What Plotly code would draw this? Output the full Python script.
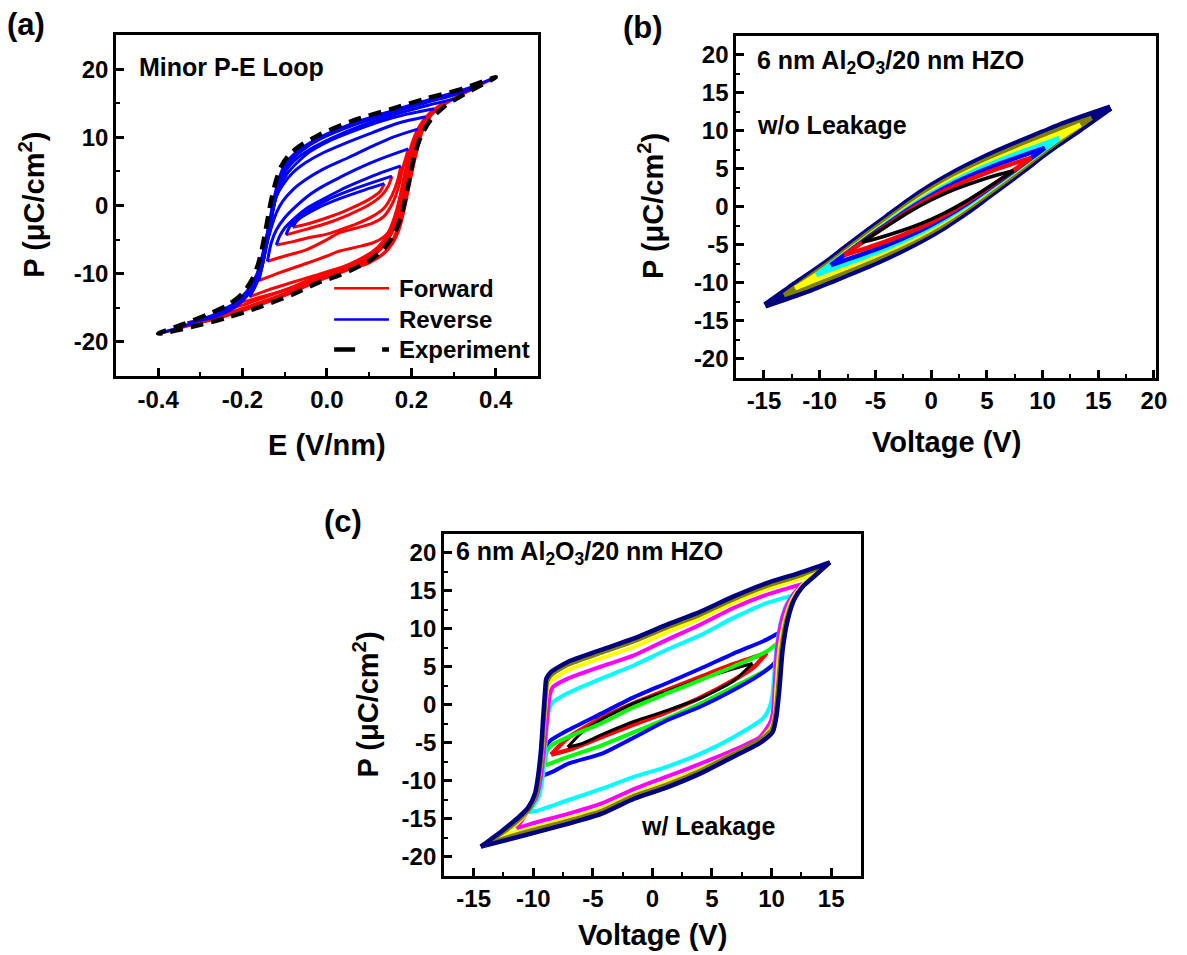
import plotly.graph_objects as go

FONT = "Liberation Sans, Arial, Helvetica, sans-serif"
W, H = 1187, 955

# ---------------- (a) Minor P-E loops ----------------
# forward (red) branches, one list per minor loop (inner -> outer)
a_fwd_E = [
    [-0.081, -0.04, 0.0, 0.05, 0.10, 0.125, 0.136],
    [-0.097, -0.05, 0.0, 0.05, 0.10, 0.13, 0.145, 0.154],
    [-0.120, -0.08, -0.049, 0.0, 0.029, 0.07, 0.108, 0.135, 0.155, 0.168, 0.175],
    [-0.141, -0.10, -0.049, 0.0, 0.029, 0.07, 0.108, 0.135, 0.156, 0.17, 0.179, 0.193],
    [-0.161, -0.11, -0.049, 0.0, 0.029, 0.07, 0.108, 0.135, 0.156, 0.169, 0.179, 0.191, 0.203, 0.215],
    [-0.183, -0.14, -0.089, -0.03, 0.029, 0.07, 0.108, 0.135, 0.156, 0.172, 0.183, 0.193, 0.203, 0.218, 0.234],
    [-0.21, -0.16, -0.12, -0.06, 0.0, 0.05, 0.10, 0.135, 0.155, 0.170, 0.182, 0.193, 0.205, 0.222, 0.24, 0.254],
    [-0.26, -0.2, -0.14, -0.08, -0.02, 0.03, 0.07, 0.105, 0.13, 0.149, 0.163, 0.174, 0.184, 0.194, 0.21, 0.235, 0.265, 0.30],
    [-0.33, -0.26, -0.2, -0.14, -0.08, -0.02, 0.03, 0.07, 0.105, 0.131, 0.151, 0.166, 0.177, 0.187, 0.197, 0.212, 0.235, 0.27, 0.31, 0.35],
    [-0.40, -0.32, -0.24, -0.16, -0.08, -0.02, 0.03, 0.07, 0.105, 0.133, 0.154, 0.17, 0.181, 0.191, 0.201, 0.217, 0.24, 0.28, 0.34, 0.40],
]
a_fwd_P = [
    [-3.2, -2.6, -1.8, -0.6, 0.9, 2.0, 3.2],
    [-4.3, -3.5, -2.6, -1.4, 0.1, 1.5, 2.8, 4.3],
    [-5.8, -5.3, -4.8, -4.2, -3.6, -2.7, -1.6, -0.4, 1.6, 3.8, 5.8],
    [-8.2, -7.4, -6.5, -5.0, -4.0, -3.3, -2.6, -1.6, 0.4, 2.8, 5.3, 8.3],
    [-11.0, -9.8, -8.5, -7.4, -6.7, -6.1, -5.5, -4.6, -3.1, -0.8, 2.3, 5.0, 7.2, 11.2],
    [-13.4, -12.4, -11.4, -10.3, -9.2, -8.6, -8.0, -7.0, -5.5, -3.3, -0.6, 2.4, 5.3, 9.3, 13.0],
    [-14.3, -13.5, -12.8, -11.6, -10.5, -9.4, -8.4, -7.0, -5.2, -2.8, 0.2, 3.5, 7.0, 10.3, 12.6, 14.2],
    [-15.6, -14.6, -13.3, -11.9, -10.3, -9.2, -8.1, -6.9, -5.5, -3.5, -1.1, 1.6, 4.6, 7.5, 10.5, 13.0, 14.6, 15.6],
    [-17.2, -16.2, -15.1, -13.8, -12.4, -10.7, -9.6, -8.5, -7.3, -5.8, -3.8, -1.3, 1.5, 4.5, 7.4, 10.2, 12.6, 14.6, 16.0, 17.2],
    [-18.8, -17.5, -16.2, -14.6, -12.7, -11.0, -9.9, -8.8, -7.6, -6.0, -4.0, -1.5, 1.3, 4.3, 7.3, 10.3, 12.8, 14.9, 17.0, 18.8],
]
# reverse (blue) branches
a_rev_E = [
    [0.136, 0.09, 0.03, -0.02, -0.055, -0.072, -0.081],
    [0.154, 0.10, 0.05, 0.0, -0.04, -0.07, -0.088, -0.097],
    [0.175, 0.12, 0.069, 0.03, -0.01, -0.05, -0.081, -0.10, -0.112, -0.120],
    [0.193, 0.13, 0.069, 0.03, -0.01, -0.045, -0.073, -0.10, -0.12, -0.132, -0.141],
    [0.215, 0.16, 0.108, 0.05, -0.01, -0.05, -0.081, -0.105, -0.12, -0.133, -0.144, -0.152, -0.161],
    [0.234, 0.17, 0.108, 0.05, -0.01, -0.05, -0.081, -0.105, -0.12, -0.13, -0.136, -0.145, -0.152, -0.165, -0.183],
    [0.254, 0.19, 0.12, 0.05, 0.0, -0.04, -0.07, -0.095, -0.11, -0.122, -0.134, -0.148, -0.162, -0.18, -0.21],
    [0.30, 0.24, 0.17, 0.10, 0.03, -0.03, -0.065, -0.088, -0.104, -0.116, -0.128, -0.138, -0.15, -0.165, -0.19, -0.22, -0.26],
    [0.35, 0.30, 0.23, 0.15, 0.06, -0.02, -0.058, -0.082, -0.10, -0.112, -0.124, -0.134, -0.144, -0.155, -0.17, -0.19, -0.22, -0.26, -0.33],
    [0.40, 0.32, 0.23, 0.15, 0.06, -0.02, -0.06, -0.085, -0.103, -0.115, -0.127, -0.137, -0.147, -0.158, -0.172, -0.195, -0.23, -0.28, -0.34, -0.40],
]
a_rev_P = [
    [3.2, 2.3, 1.0, -0.3, -1.5, -2.3, -3.2],
    [4.3, 3.2, 2.1, 0.8, -0.6, -1.9, -3.1, -4.3],
    [5.8, 4.6, 3.3, 2.2, 0.9, -0.5, -2.1, -3.3, -4.5, -5.8],
    [8.3, 6.9, 5.3, 4.1, 2.8, 1.4, -0.1, -1.8, -3.6, -5.5, -8.2],
    [11.2, 10.1, 8.7, 7.0, 5.3, 3.8, 2.3, 0.6, -1.1, -3.5, -6.0, -8.5, -11.0],
    [13.0, 12.1, 10.7, 9.3, 7.7, 6.3, 4.8, 3.0, 1.3, -1.2, -3.6, -6.2, -8.5, -11.2, -13.4],
    [14.2, 13.4, 12.2, 10.6, 9.3, 7.9, 6.3, 4.6, 3.0, 1.0, -2.0, -6.0, -9.4, -12.0, -14.3],
    [15.6, 14.7, 13.5, 12.1, 10.4, 8.6, 7.2, 5.9, 4.4, 2.4, -0.6, -3.8, -7.2, -10.0, -12.6, -14.4, -15.6],
    [17.2, 16.2, 15.0, 13.5, 11.7, 9.6, 8.1, 6.8, 5.3, 3.3, 0.4, -2.9, -6.2, -9.1, -11.4, -13.3, -15.0, -16.2, -17.2],
    [18.8, 16.9, 15.3, 13.8, 12.0, 9.9, 8.4, 7.1, 5.6, 3.6, 0.6, -2.7, -6.0, -8.9, -11.2, -13.2, -15.0, -16.3, -17.7, -18.8],
]
# experiment (dashed)
exp_E = [0.40, 0.32, 0.23, 0.15, 0.06, -0.02, -0.065, -0.09, -0.108, -0.12, -0.132, -0.142, -0.152, -0.163,
         -0.178, -0.20, -0.235, -0.28, -0.34, -0.40,
         -0.32, -0.24, -0.16, -0.08, -0.02, 0.03, 0.07, 0.105, 0.135, 0.158, 0.175, 0.186, 0.196, 0.206,
         0.222, 0.245, 0.28, 0.34, 0.40]
exp_P = [18.8, 17.1, 15.6, 14.1, 12.4, 10.3, 8.7, 7.4, 5.8, 3.8, 0.8, -2.5, -5.8, -8.6,
         -10.9, -12.9, -14.6, -15.9, -17.4, -18.8,
         -17.8, -16.5, -14.9, -13.0, -11.3, -10.2, -9.1, -7.9, -6.3, -4.3, -1.8, 1.0, 4.0, 7.0,
         10.0, 12.5, 14.6, 16.8, 18.8]
a_xticks = [-0.4, -0.2, 0.0, 0.2, 0.4]
a_xticktext = ["-0.4", "-0.2", "0.0", "0.2", "0.4"]
a_yticks = [-20, -10, 0, 10, 20]
a_yticktext = ["-20", "-10", "0", "10", "20"]
legend_names = ["Forward", "Reverse", "Experiment"]

# ---------------- (b) w/o leakage (outer -> inner) ----------------
b_colors = ["#000080", "#808000", "#FFFF00", "#00FFFF", "#0000FF", "#FF0000", "#000000"]
b_widths = [6.5, 4.5, 4.5, 4.5, 4.5, 4.5, 3.5]
b_up_V = [
    [16.1, 14, 12, 10, 8, 6, 4, 2, 0, -2, -4, -6.2, -7.8, -9.0, -10.3, -12.2, -13.2, -14.9],
    [14.4, 12, 9, 6, 3, 0, -3, -6, -9, -11, -13.2],
    [13.4, 11, 8, 5, 2, -1, -4, -7, -10, -12.2],
    [11.5, 9, 7, 5, 3, 1, -1, -3, -5, -7, -10.3],
    [10.2, 8, 6, 4, 2, 0, -2, -4, -6, -9.0],
    [9.0, 7, 5, 3, 1, -1, -3, -5, -7.8],
    [7.4, 6, 4, 2, 0, -2, -4, -6.2],
]
b_up_P = [
    [13.0, 11.95, 10.9, 9.72, 8.52, 7.28, 5.9, 4.4, 2.68, 0.75, -1.42, -3.8, -5.58, -6.94, -8.3, -10.2, -11.24, -13.0],
    [11.65, 10.43, 8.67, 6.84, 4.76, 2.33, -0.66, -3.89, -7.25, -9.34, -11.65],
    [10.75, 9.32, 7.58, 5.73, 3.61, 0.99, -2.10, -5.34, -8.65, -10.75],
    [9.0, 7.66, 6.56, 5.37, 4.05, 2.55, 0.81, -1.16, -3.27, -5.41, -9.0],
    [7.7, 6.59, 5.55, 4.36, 3.04, 1.47, -0.33, -2.37, -4.44, -7.7],
    [6.4, 5.48, 4.46, 3.29, 1.93, 0.33, -1.52, -3.52, -6.4],
    [4.71, 4.18, 3.26, 2.19, 0.86, -0.74, -2.60, -4.71],
]
b_lo_V = [
    [-14.9, -12.8, -10.8, -8.8, -6.8, -4.8, -2.8, -0.8, 1.2, 3.2, 5.2, 7.4, 9.0, 10.2, 11.5, 13.4, 14.4, 16.1],
    [-13.2, -10.8, -7.8, -4.8, -1.8, 1.2, 4.2, 7.2, 10.2, 12.2, 14.4],
    [-12.2, -9.8, -6.8, -3.8, -0.8, 2.2, 5.2, 8.2, 11.2, 13.4],
    [-10.3, -7.8, -5.8, -3.8, -1.8, 0.2, 2.2, 4.2, 6.2, 8.2, 11.5],
    [-9.0, -6.8, -4.8, -2.8, -0.8, 1.2, 3.2, 5.2, 7.2, 10.2],
    [-7.8, -5.8, -3.8, -1.8, 0.2, 2.2, 4.2, 6.2, 9.0],
    [-6.2, -4.8, -2.8, -0.8, 1.2, 3.2, 5.2, 7.4],
]
b_lo_P = [
    [-13.0, -11.95, -10.9, -9.72, -8.52, -7.28, -5.9, -4.4, -2.68, -0.75, 1.42, 3.8, 5.58, 6.94, 8.3, 10.2, 11.24, 13.0],
    [-11.65, -10.43, -8.67, -6.84, -4.76, -2.33, 0.66, 3.89, 7.25, 9.34, 11.65],
    [-10.75, -9.32, -7.58, -5.73, -3.61, -0.99, 2.10, 5.34, 8.65, 10.75],
    [-9.0, -7.66, -6.56, -5.37, -4.05, -2.55, -0.81, 1.16, 3.27, 5.41, 9.0],
    [-7.7, -6.59, -5.55, -4.36, -3.04, -1.47, 0.33, 2.37, 4.44, 7.7],
    [-6.4, -5.48, -4.46, -3.29, -1.93, -0.33, 1.52, 3.52, 6.4],
    [-4.71, -4.18, -3.26, -2.19, -0.86, 0.74, 2.60, 4.71],
]
b_xticks = [-15, -10, -5, 0, 5, 10, 15, 20]
b_xticktext = ["-15", "-10", "-5", "0", "5", "10", "15", "20"]
bc_yticks = [-20, -15, -10, -5, 0, 5, 10, 15, 20]
bc_yticktext = ["-20", "-15", "-10", "-5", "0", "5", "10", "15", "20"]

# ---------------- (c) w/ leakage ----------------
c_colors = ["#FF0000", "#000000", "#00FF00", "#0000FF", "#00FFFF", "#FF00FF", "#FFFF00", "#808000", "#000080"]
c_up_V = [
    [9.6, 6.8, 4.0, 1.2, -1.5, -4.3, -7.1, -8.5],
    [8.4, 6.8, 4.0, 1.2, -1.5, -4.3, -6.0, -7.1],
    [10.6, 9.5, 6.8, 4.0, 1.2, -1.5, -4.3, -7.1, -8.5, -8.9, -9.0],
    [10.8, 9.54, 6.8, 4.0, 1.2, -1.5, -4.3, -7.1, -8.6, -9.0, -9.2, -9.45],
    [11.9, 9.5, 6.8, 4.0, 1.2, -1.5, -4.3, -7.1, -8.4, -8.7, -8.85, -9.0, -9.2, -9.55, -10.4],
    [12.9, 9.5, 6.8, 4.0, 1.2, -1.5, -4.3, -7.1, -8.35, -8.6, -8.75, -8.9, -9.1, -9.35, -9.75, -10.4, -11.4],
    [13.9, 12.3, 9.5, 6.8, 4.0, 1.2, -1.5, -4.3, -7.1, -8.45, -8.8, -8.9, -9.05, -9.25, -9.5, -9.85, -10.6, -11.6, -12.6],
    [14.7, 12.3, 9.54, 6.77, 4.0, 1.23, -1.54, -4.3, -7.1, -8.45, -8.82, -8.92, -9.08, -9.27, -9.5, -9.75, -10.25, -11.0, -12.3, -13.9],
    [14.9, 12.3, 9.54, 6.77, 4.0, 1.23, -1.54, -4.3, -7.1, -8.5, -8.9, -9.0, -9.16, -9.35, -9.6, -9.85, -10.4, -11.2, -12.6, -14.4],
]
c_up_P = [
    [6.8, 5.3, 3.6, 1.9, 0.2, -1.8, -4.4, -6.6],
    [5.4, 4.7, 3.3, 1.7, 0.2, -2.0, -3.8, -5.6],
    [8.2, 6.9, 5.0, 3.2, 1.45, -0.3, -2.5, -4.3, -5.4, -6.3, -8.0],
    [9.6, 8.5, 6.7, 4.7, 2.8, 1.0, -1.2, -3.4, -4.8, -5.6, -7.0, -9.5],
    [14.4, 13.3, 11.4, 9.1, 7.2, 5.2, 3.4, 1.5, 0.2, -0.9, -2.7, -6.0, -9.5, -12.2, -14.2],
    [16.0, 14.4, 12.7, 10.5, 8.5, 6.5, 5.0, 3.4, 2.3, 1.3, -0.5, -3.0, -6.0, -9.5, -12.2, -13.9, -16.3],
    [17.4, 16.5, 15.1, 13.4, 11.3, 9.5, 7.6, 6.1, 4.5, 3.2, 2.3, 1.0, -1.7, -6.0, -9.5, -12.0, -14.4, -16.0, -17.2],
    [18.4, 16.9, 15.55, 13.8, 11.8, 10.1, 8.3, 6.8, 5.2, 3.9, 3.0, 1.6, -1.8, -6.2, -9.6, -11.8, -13.6, -14.9, -16.6, -18.3],
    [18.7, 17.3, 15.95, 14.2, 12.2, 10.5, 8.7, 7.2, 5.6, 4.3, 3.4, 1.9, -1.6, -6.0, -9.5, -11.7, -13.5, -14.8, -16.6, -18.7],
]
c_lo_V = [
    [-8.5, -7.1, -4.3, -1.5, 1.2, 4.0, 6.8, 8.5, 9.6],
    [-7.1, -6.0, -4.3, -1.5, 1.2, 4.0, 6.8, 8.4],
    [-9.0, -8.3, -7.1, -4.3, -1.5, 1.2, 4.0, 6.8, 9.5, 10.3, 10.5, 10.6],
    [-9.45, -8.3, -7.1, -4.3, -1.5, 1.2, 4.0, 6.8, 9.0, 10.1, 10.5, 10.65, 10.8],
    [-10.4, -9.5, -7.1, -4.3, -1.5, 1.2, 4.0, 6.8, 9.3, 9.85, 10.05, 10.2, 10.4, 10.8, 11.3, 11.9],
    [-11.4, -10.2, -7.1, -4.3, -1.5, 1.2, 4.0, 6.8, 9.0, 9.85, 10.1, 10.25, 10.45, 10.85, 11.45, 12.2, 12.9],
    [-12.6, -11.2, -7.1, -4.3, -1.5, 1.2, 4.0, 6.8, 9.0, 9.95, 10.25, 10.4, 10.65, 11.1, 11.7, 12.45, 13.2, 13.9],
    [-13.9, -11.2, -7.1, -4.3, -1.54, 1.23, 4.0, 6.77, 8.95, 10.0, 10.3, 10.52, 10.8, 11.22, 11.8, 12.5, 13.6, 14.7],
    [-14.4, -11.2, -7.1, -4.3, -1.54, 1.23, 4.0, 6.77, 9.0, 10.1, 10.4, 10.65, 10.93, 11.35, 11.9, 12.6, 13.7, 14.9],
]
c_lo_P = [
    [-6.6, -6.0, -4.3, -2.6, -1.0, 0.9, 3.2, 4.9, 6.8],
    [-5.6, -5.2, -4.0, -2.2, -0.8, 0.8, 3.1, 5.4],
    [-8.0, -7.6, -6.9, -5.4, -3.6, -1.85, 0.1, 2.3, 4.5, 5.6, 6.6, 8.2],
    [-9.5, -8.8, -7.8, -6.5, -4.3, -2.1, -0.3, 1.9, 3.9, 5.2, 5.9, 7.5, 9.6],
    [-14.2, -13.9, -12.6, -11.1, -9.5, -8.2, -6.5, -4.3, -1.8, -0.3, 1.0, 3.6, 7.2, 11.0, 13.3, 14.4],
    [-16.3, -15.7, -14.4, -13.05, -11.1, -9.5, -7.8, -6.0, -4.3, -2.5, -1.2, 1.9, 7.2, 11.1, 13.6, 15.2, 16.0],
    [-17.2, -16.7, -15.0, -13.7, -11.8, -10.2, -8.45, -6.45, -4.7, -3.0, -1.5, 2.0, 7.2, 11.1, 13.8, 15.5, 16.6, 17.4],
    [-18.3, -17.0, -15.3, -14.0, -12.0, -10.5, -8.7, -6.5, -4.7, -3.3, -1.4, 2.0, 7.2, 11.1, 13.7, 15.3, 16.8, 18.4],
    [-18.7, -17.4, -15.7, -14.4, -12.4, -10.9, -9.1, -6.9, -5.1, -3.6, -1.6, 1.9, 7.2, 11.1, 13.8, 15.5, 17.05, 18.7],
]
c_widths = [4.5, 3, 4, 4, 4, 4, 4, 4, 4.5]
c_xticks = [-15, -10, -5, 0, 5, 10, 15]
c_xticktext = ["-15", "-10", "-5", "0", "5", "10", "15"]

fig = go.Figure()

# ---- panel (a)
for E, P in zip(a_fwd_E, a_fwd_P):
    fig.add_trace(go.Scatter(x=E, y=P, mode="lines", xaxis="x", yaxis="y", showlegend=False,
                             line=dict(color="#FF0000", width=3, shape="spline", smoothing=0.8)))
for E, P in zip(a_rev_E, a_rev_P):
    fig.add_trace(go.Scatter(x=E, y=P, mode="lines", xaxis="x", yaxis="y", showlegend=False,
                             line=dict(color="#0000FF", width=3, shape="spline", smoothing=0.8)))
fig.add_trace(go.Scatter(x=exp_E, y=exp_P, mode="lines", xaxis="x", yaxis="y", showlegend=False,
                         line=dict(color="#000000", width=4.5, dash="13px,8px", shape="spline", smoothing=0.8)))

# ---- panel (b)
for uv, up, lv, lp, col, w in zip(b_up_V, b_up_P, b_lo_V, b_lo_P, b_colors, b_widths):
    for xs, ys in ((uv, up), (lv, lp)):
        fig.add_trace(go.Scatter(x=xs, y=ys, mode="lines", xaxis="x2", yaxis="y2", showlegend=False,
                                 line=dict(color=col, width=w, shape="spline", smoothing=0.8)))

# ---- panel (c)
for uv, up, lv, lp, col, w in zip(c_up_V, c_up_P, c_lo_V, c_lo_P, c_colors, c_widths):
    for xs, ys in ((uv, up), (lv, lp)):
        fig.add_trace(go.Scatter(x=xs, y=ys, mode="lines", xaxis="x3", yaxis="y3", showlegend=False,
                                 line=dict(color=col, width=w, shape="spline", smoothing=0.6)))


def axis(domain, rng, tickvals, ticktext, minorvals, anchor):
    return dict(domain=domain, range=rng, anchor=anchor, tickmode="array", tickvals=tickvals,
                ticktext=ticktext, ticks="inside", ticklen=8, tickwidth=2.5, tickcolor="black",
                showline=True, linewidth=2.5, linecolor="black", mirror=True, showgrid=False,
                zeroline=False, fixedrange=True,
                tickfont=dict(family=FONT, size=24, color="black", weight="bold"),
                minor=dict(ticks="inside", ticklen=4, tickwidth=2, tickcolor="black",
                           tickvals=minorvals, showgrid=False))


def px(x):
    return x / W


def py(y):
    return 1 - y / H


fig.update_layout(
    width=W, height=H, margin=dict(l=0, r=0, t=0, b=0),
    paper_bgcolor="white", plot_bgcolor="white", showlegend=False,
    font=dict(family=FONT, size=24, color="black"),
    xaxis=axis([px(117), px(543)], [-0.5, 0.5], a_xticks, a_xticktext,
               [-0.5, -0.3, -0.1, 0.1, 0.3, 0.5], "y"),
    yaxis=axis([py(376), py(35)], [-25, 25], a_yticks, a_yticktext,
               [-25, -15, -5, 5, 15, 25], "x"),
    xaxis2=axis([px(743), px(1167)], [-17.5, 20.2], b_xticks, b_xticktext,
                [-17.5, -12.5, -7.5, -2.5, 2.5, 7.5, 12.5, 17.5], "y2"),
    yaxis2=axis([py(377.5), py(35.5)], [-22.5, 22.5], bc_yticks, bc_yticktext,
                [-22.5, -17.5, -12.5, -7.5, -2.5, 2.5, 7.5, 12.5, 17.5, 22.5], "x2"),
    xaxis3=axis([px(448), px(869)], [-17.5, 17.5], c_xticks, c_xticktext,
                [-17.5, -12.5, -7.5, -2.5, 2.5, 7.5, 12.5, 17.5], "y3"),
    yaxis3=axis([py(875.5), py(533.5)], [-22.5, 22.5], bc_yticks, bc_yticktext,
                [-22.5, -17.5, -12.5, -7.5, -2.5, 2.5, 7.5, 12.5, 17.5, 22.5], "x3"),
)

# legend of panel (a), drawn as shapes + text in data coordinates
leg_y = [-12.15, -16.7, -21.1]
leg_col = ["#FF0000", "#0000FF", "#000000"]
for i, (name, yv, col) in enumerate(zip(legend_names, leg_y, leg_col)):
    fig.add_shape(type="line", xref="x", yref="y", x0=0.017, x1=0.147, y0=yv, y1=yv,
                  line=dict(color=col, width=4.5 if i == 2 else 2.5,
                            dash="21px,27px" if i == 2 else "solid"))
    fig.add_annotation(x=0.165, y=yv, xref="x", yref="y", text="<b>%s</b>" % name, showarrow=False,
                       xanchor="left", yanchor="middle",
                       font=dict(family=FONT, size=24, color="black"))


def note(text, x, y, size=25, xanchor="left", angle=None):
    kw = dict(x=px(x), y=py(y), xref="paper", yref="paper", text="<b>%s</b>" % text,
              showarrow=False, xanchor=xanchor, yanchor="middle",
              font=dict(family=FONT, size=size, color="black"))
    if angle is not None:
        kw["textangle"] = angle
    fig.add_annotation(**kw)


note("(a)", 26, 25, 31, "center")
note("(b)", 649, 28, 31, "center")
note("(c)", 346, 521, 31, "center")
note("Minor P-E Loop", 138, 67)
note("6 nm Al<sub>2</sub>O<sub>3</sub>/20 nm HZO", 762, 62)
note("w/o Leakage", 762, 125)
note("6 nm Al<sub>2</sub>O<sub>3</sub>/20 nm HZO", 458, 553)
note("w/ Leakage", 645, 826)
ytitle = "P (\u03bcC/cm<sup>2</sup>)"
note("E (V/nm)", 330, 445, 29, "center")
note(ytitle, 32, 205, 29, "center", -90)
note("Voltage (V)", 955, 442, 29, "center")
note(ytitle, 657, 206, 29, "center", -90)
note("Voltage (V)", 659, 935, 29, "center")
note(ytitle, 369, 705, 29, "center", -90)

fig.write_html("out.html")
